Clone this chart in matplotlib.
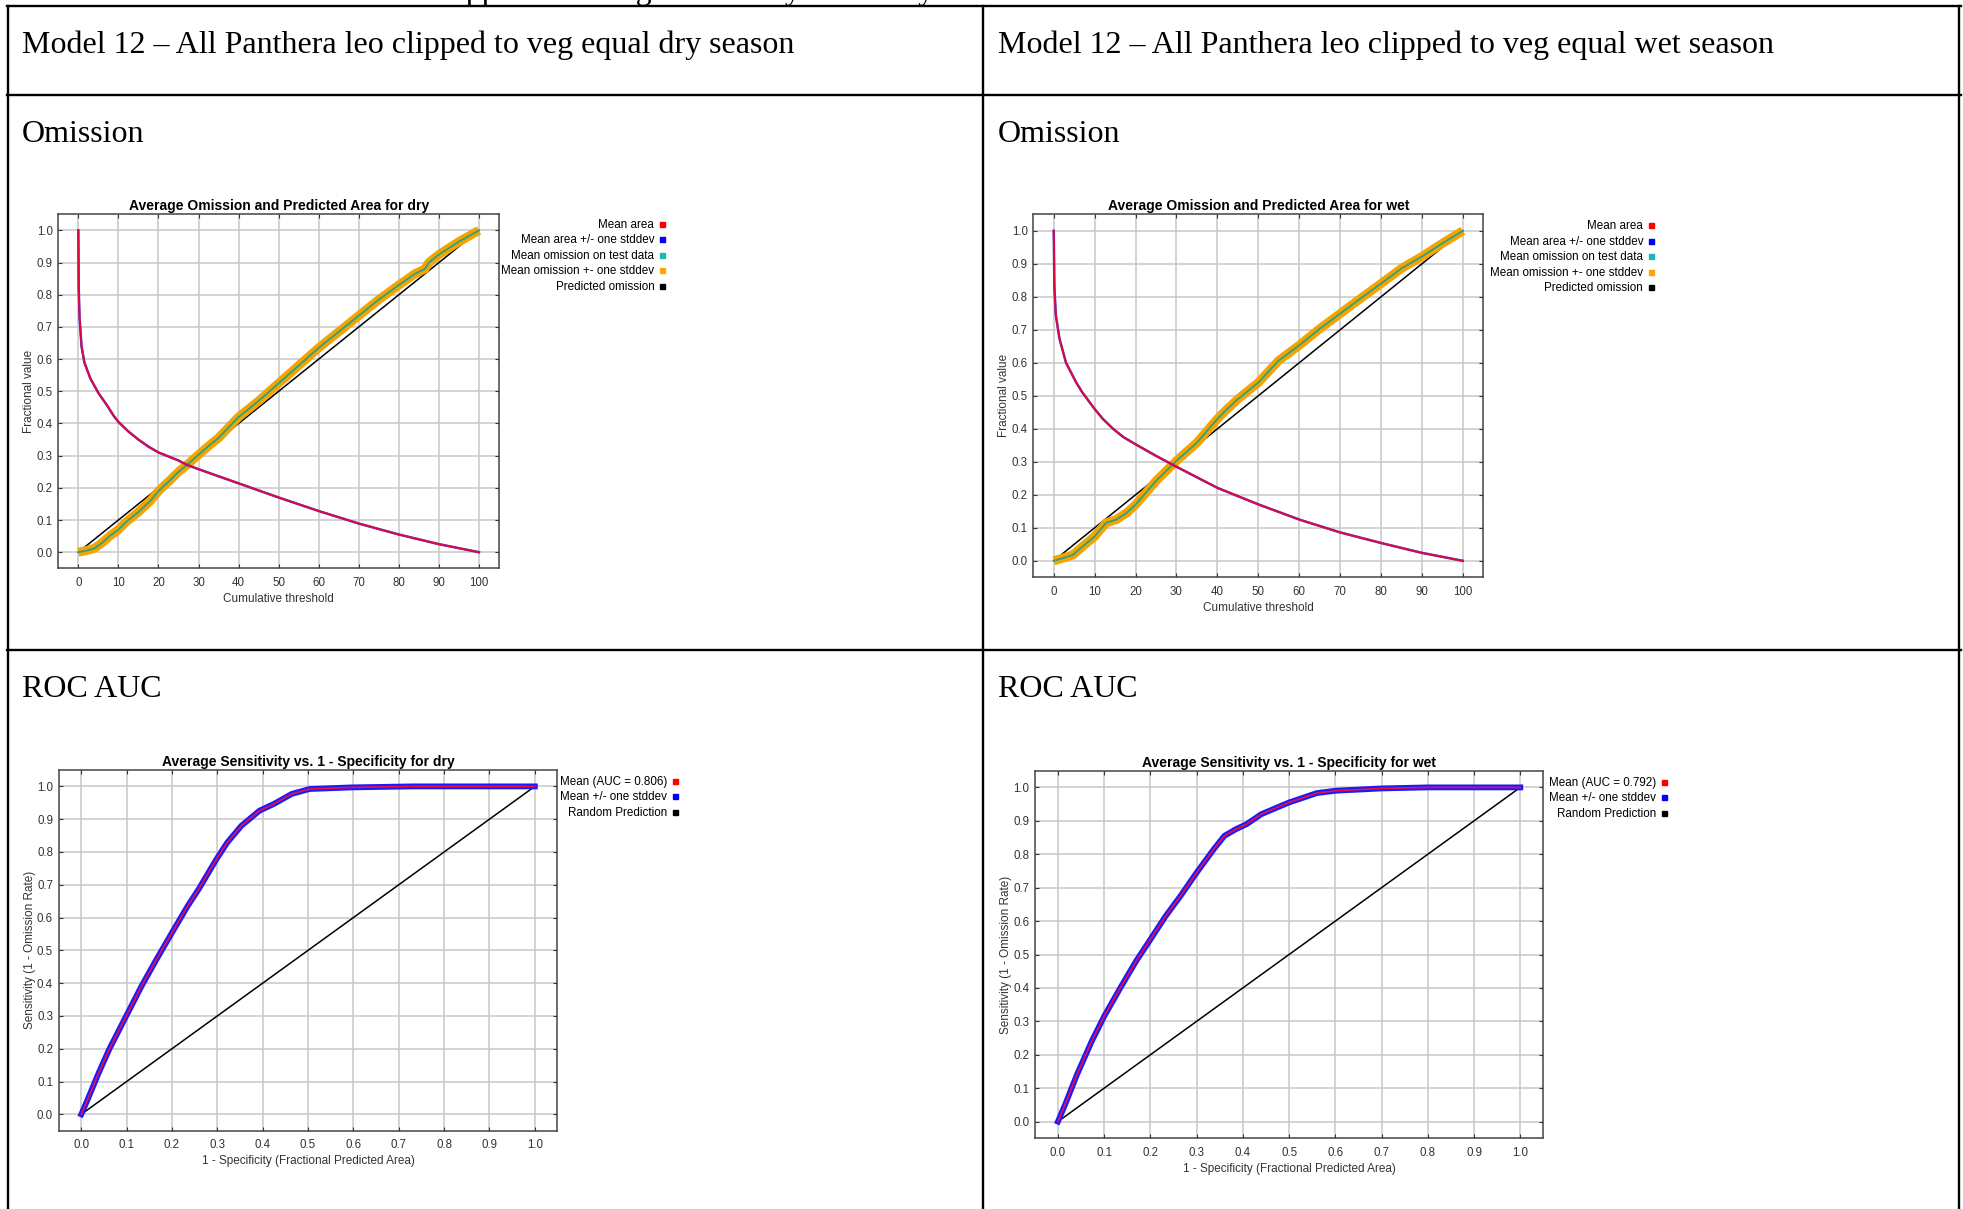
import matplotlib
matplotlib.use('Agg')
import matplotlib.pyplot as plt
from matplotlib.lines import Line2D

W, H = 1963, 1209

# omission / predicted area, dry season (cumulative threshold -> fraction)
dry_area_thr = [0, 0.1, 0.3, 0.8, 1.5, 3, 5, 7.5, 8.75, 10, 12.5, 15, 17.5, 20, 25, 27, 30, 40, 50,
                60, 70, 80, 90, 100]
dry_area = [1.0, 0.82, 0.73, 0.64, 0.59, 0.54, 0.495, 0.45, 0.425, 0.405, 0.375, 0.35, 0.328, 0.31,
            0.285, 0.272, 0.258, 0.214, 0.17, 0.128, 0.089, 0.055, 0.025, 0.0]
dry_omis_thr = [0, 2, 4, 6, 8, 10, 12, 15, 18, 20, 23, 25, 27, 30, 33, 35, 40, 45, 50, 55, 60, 65,
                70, 75, 80, 84, 86.5, 87.5, 90, 95, 100]
dry_omis = [0.0, 0.005, 0.012, 0.03, 0.052, 0.07, 0.095, 0.125, 0.16, 0.19, 0.225, 0.25, 0.27, 0.303,
            0.335, 0.355, 0.42, 0.47, 0.525, 0.58, 0.635, 0.685, 0.735, 0.785, 0.83, 0.865, 0.88, 0.9,
            0.925, 0.965, 1.0]

# omission / predicted area, wet season
wet_area_thr = [0, 0.15, 0.5, 1.4, 3, 5.5, 7, 8.8, 10, 12, 14.5, 17, 20, 25, 30, 40, 50, 60, 70, 80,
                90, 100]
wet_area = [1.0, 0.83, 0.745, 0.673, 0.60, 0.54, 0.51, 0.48, 0.46, 0.43, 0.40, 0.375, 0.353, 0.318,
            0.285, 0.221, 0.171, 0.125, 0.086, 0.054, 0.024, 0.0]
wet_omis_thr = [0, 2.2, 4.7, 7.1, 10, 12.8, 15.3, 17.8, 20, 25, 30, 35, 40, 42, 45, 50, 55, 60, 65,
                70, 75, 80, 85, 90, 95, 100]
wet_omis = [0.0, 0.008, 0.018, 0.044, 0.074, 0.115, 0.125, 0.145, 0.17, 0.242, 0.303, 0.358, 0.43,
            0.455, 0.49, 0.54, 0.607, 0.653, 0.703, 0.749, 0.795, 0.84, 0.886, 0.922, 0.962, 1.0]

# ROC curves
dry_fpr = [0, 0.014, 0.038, 0.0615, 0.098, 0.1325, 0.164, 0.2, 0.235, 0.259, 0.298, 0.322, 0.353,
           0.393, 0.424, 0.464, 0.503, 0.598, 0.732, 1.0]
dry_sens = [0, 0.045, 0.125, 0.198, 0.297, 0.39, 0.468, 0.554, 0.636, 0.687, 0.778, 0.829, 0.88,
            0.926, 0.946, 0.977, 0.992, 0.997, 1.0, 1.0]
wet_fpr = [0, 0.0168, 0.041, 0.073, 0.1, 0.137, 0.169, 0.2, 0.233, 0.265, 0.3, 0.337, 0.36, 0.385,
           0.408, 0.44, 0.5, 0.56, 0.6, 0.7, 0.8, 1.0]
wet_sens = [0, 0.055, 0.14, 0.24, 0.315, 0.405, 0.48, 0.545, 0.615, 0.675, 0.745, 0.815, 0.855,
            0.875, 0.89, 0.92, 0.955, 0.983, 0.99, 0.997, 1.0, 1.0]

dry_auc = 0.806
wet_auc = 0.792

omis_ticks = [0, 10, 20, 30, 40, 50, 60, 70, 80, 90, 100]
frac_ticks = [0.0, 0.1, 0.2, 0.3, 0.4, 0.5, 0.6, 0.7, 0.8, 0.9, 1.0]

plt.rcParams['font.family'] = ['Liberation Sans', 'DejaVu Sans']

fig = plt.figure(figsize=(W / 100, H / 100), dpi=100)


def px_axes(left, top, right, bottom):
    return fig.add_axes([left / W, 1 - bottom / H, (right - left) / W, (bottom - top) / H])


def fig_line(x0, y0, x1, y1):
    fig.add_artist(Line2D([x0 / W, x1 / W], [1 - y0 / H, 1 - y1 / H], color='black', lw=1.7,
                          transform=fig.transFigure))


def style(ax, title, xlabel, ylabel, xticks, xlim, xlabels):
    ax.set_xlim(*xlim)
    ax.set_ylim(-0.05, 1.05)
    ax.set_xticks(xticks, xlabels)
    ax.set_yticks(frac_ticks, ['%.1f' % v for v in frac_ticks])
    ax.grid(True, color='#c8c8c8', lw=1.1)
    ax.set_axisbelow(True)
    ax.tick_params(direction='in', length=3, width=0.8, color='#333333', top=True, right=True,
                   labelsize=8.3, labelcolor='#333333')
    ax.tick_params(axis='x', pad=6)
    ax.tick_params(axis='y', pad=4)
    for s in ax.spines.values():
        s.set_color('#444444')
        s.set_linewidth(1.1)
    ax.set_title(title, fontsize=10, fontweight='bold', pad=3)
    ax.set_xlabel(xlabel, fontsize=8.5, color='#333333', labelpad=3)
    ax.set_ylabel(ylabel, fontsize=8.5, color='#333333', labelpad=1)


def legend(ax, items, right, top):
    handles = [Line2D([], [], ls='none', marker='s', markersize=3.6, color=c, label=l) for l, c in items]
    ax.legend(handles=handles, loc='upper right', bbox_to_anchor=(right / W, 1 - top / H),
              bbox_transform=fig.transFigure, markerfirst=False, frameon=False, fontsize=8.4,
              borderpad=0, handlelength=0.4, handletextpad=0.45, labelspacing=0.3)


def omission(ax, area_thr, area, omis_thr, omis, season):
    ax.plot([0, 100], [0, 1], color='black', lw=1.1)
    ax.plot(omis_thr, omis, color='#f5a300', lw=6.5, solid_capstyle='butt')
    ax.plot(omis_thr, omis, color='#27a384', lw=1.3)
    ax.plot(area_thr, area, color='#4040e0', lw=1.8)
    ax.plot(area_thr, area, color='#e0083c', lw=1.4)
    style(ax, 'Average Omission and Predicted Area for ' + season, 'Cumulative threshold',
          'Fractional value', omis_ticks, (-5, 105), [str(v) for v in omis_ticks])


def roc(ax, fpr, sens, season):
    ax.plot([0, 1], [0, 1], color='black', lw=1.1)
    ax.plot(fpr, sens, color='#1a1aff', lw=4.2)
    ax.plot(fpr, sens, color='#ec1040', lw=1.2)
    style(ax, 'Average Sensitivity vs. 1 - Specificity for ' + season,
          '1 - Specificity (Fractional Predicted Area)', 'Sensitivity (1 - Omission Rate)',
          frac_ticks, (-0.05, 1.05), ['%.1f' % v for v in frac_ticks])


omis_items = [('Mean area', '#ff0000'), ('Mean area +/- one stddev', '#0000ff'),
              ('Mean omission on test data', '#20b4b4'), ('Mean omission +- one stddev', '#ffa500'),
              ('Predicted omission', '#000000')]

ax1 = px_axes(58.3, 214.3, 499, 568.3)
omission(ax1, dry_area_thr, dry_area, dry_omis_thr, dry_omis, 'dry')
legend(ax1, omis_items, 670, 213)

ax2 = px_axes(1033.3, 214.3, 1483.3, 577.3)
omission(ax2, wet_area_thr, wet_area, wet_omis_thr, wet_omis, 'wet')
legend(ax2, omis_items, 1659, 214.5)

ax3 = px_axes(58.6, 770, 557.5, 1130.7)
roc(ax3, dry_fpr, dry_sens, 'dry')
legend(ax3, [('Mean (AUC = %.3f)' % dry_auc, '#ff0000'), ('Mean +/- one stddev', '#0000ff'),
             ('Random Prediction', '#000000')], 683, 770)

ax4 = px_axes(1034.8, 770.7, 1543.4, 1138.3)
roc(ax4, wet_fpr, wet_sens, 'wet')
legend(ax4, [('Mean (AUC = %.3f)' % wet_auc, '#ff0000'), ('Mean +/- one stddev', '#0000ff'),
             ('Random Prediction', '#000000')], 1672, 771)

# table grid
fig_line(7, 6, 1961, 6)
fig_line(7, 94.5, 1961, 94.5)
fig_line(7, 649.5, 1961, 649.5)
for x in [8, 983, 1959]:
    fig_line(x, 6, x, 1209)

serif = ['Liberation Serif', 'DejaVu Serif']
# caption line above the table, cut off by the page edge
fig.text(432 / W, 1 + 1 / H, 'Supplemental figures for dry season by model', fontsize=23,
         family=serif, va='baseline')
for x0, season in [(22, 'dry'), (998, 'wet')]:
    fig.text(x0 / W, 1 - 52.5 / H, 'Model 12 \u2013 All Panthera leo clipped to veg equal %s season' % season,
             fontsize=23, family=serif, va='baseline')
    fig.text(x0 / W, 1 - 141.5 / H, 'Omission', fontsize=23, family=serif, va='baseline')
    fig.text(x0 / W, 1 - 696.5 / H, 'ROC AUC', fontsize=23, family=serif, va='baseline')

fig.savefig('out.png', dpi=100)
